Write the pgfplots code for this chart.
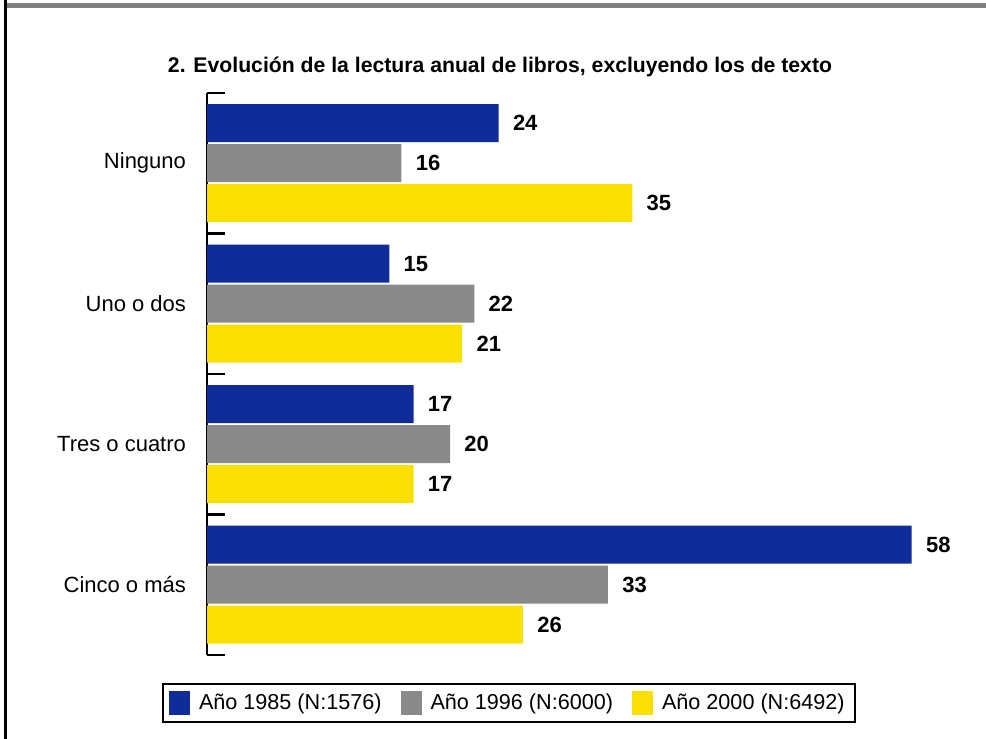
\documentclass[border=0pt]{standalone}
\usepackage{pgfplots}
\pgfplotsset{compat=1.18}
\usepackage{fontspec}
\setmainfont{Liberation Sans}
\definecolor{cblue}{RGB}{16,44,152}
\definecolor{cgray}{RGB}{138,138,138}
\definecolor{cyellow}{RGB}{250,224,0}
\begin{document}
\begin{tikzpicture}
\useasboundingbox (0,0) rectangle (493pt,369.5pt);
\fill[white] (0,0) rectangle (493pt,369.5pt);
\fill[black] (2pt,0) rectangle (3.3pt,369.5pt);
\fill[black!50] (3.3pt,365.3pt) rectangle (493pt,368pt);
\node[font=\bfseries\fontsize{10.6}{12}\selectfont, anchor=base] at (250pt,333pt)
  {2. Evolución de la lectura anual de libros, excluyendo los de texto};
\begin{axis}[
  at={(103.5pt,42pt)}, anchor=south west,
  scale only axis, width=364.5pt, height=281pt,
  xbar, xmin=0, xmax=60, ymin=-0.5, ymax=3.5,
  axis x line=none, axis y line=left,
  y axis line style={-, line width=1.2pt, black},
  ytick={0,1,2,3},
  yticklabels={Cinco o más, Tres o cuatro, Uno o dos, Ninguno},
  major tick length=0pt,
  minor ytick={-0.5,0.5,1.5,2.5,3.5},
  minor tick length=9pt,
  tick align=inside,
  every tick/.style={black, line width=1.2pt},
  yticklabel style={font=\fontsize{11}{13}\selectfont, xshift=-7pt},
  bar width=19pt,
  clip=false,
  /pgf/number format/assume math mode=true,
  point meta=x,
  nodes near coords,
  every node near coord/.append style={font=\bfseries\fontsize{11}{13}\selectfont, anchor=west, inner sep=0pt, xshift=7pt, black},
  legend columns=3,
  legend style={at={(0.414,-0.0854)}, anchor=center, draw=black, line width=1pt,
    font=\fontsize{10.8}{13}\selectfont, inner xsep=3pt, inner ysep=3pt,
    /tikz/every odd column/.append style={column sep=2.5pt},
    /tikz/every even column/.append style={column sep=7.5pt}},
  legend image code/.code={\fill[#1] (0pt,-6pt) rectangle (10.5pt,6pt);},
]
\addplot[fill=cblue, draw=none, bar shift=20pt] coordinates {(24,3) (15,2) (17,1) (58,0)};
\addplot[fill=cgray, draw=none, bar shift=0pt] coordinates {(16,3) (22,2) (20,1) (33,0)};
\addplot[fill=cyellow, draw=none, bar shift=-20pt] coordinates {(35,3) (21,2) (17,1) (26,0)};
\legend{Año 1985 (N:1576), Año 1996 (N:6000), Año 2000 (N:6492)}
\end{axis}
\end{tikzpicture}
\end{document}
